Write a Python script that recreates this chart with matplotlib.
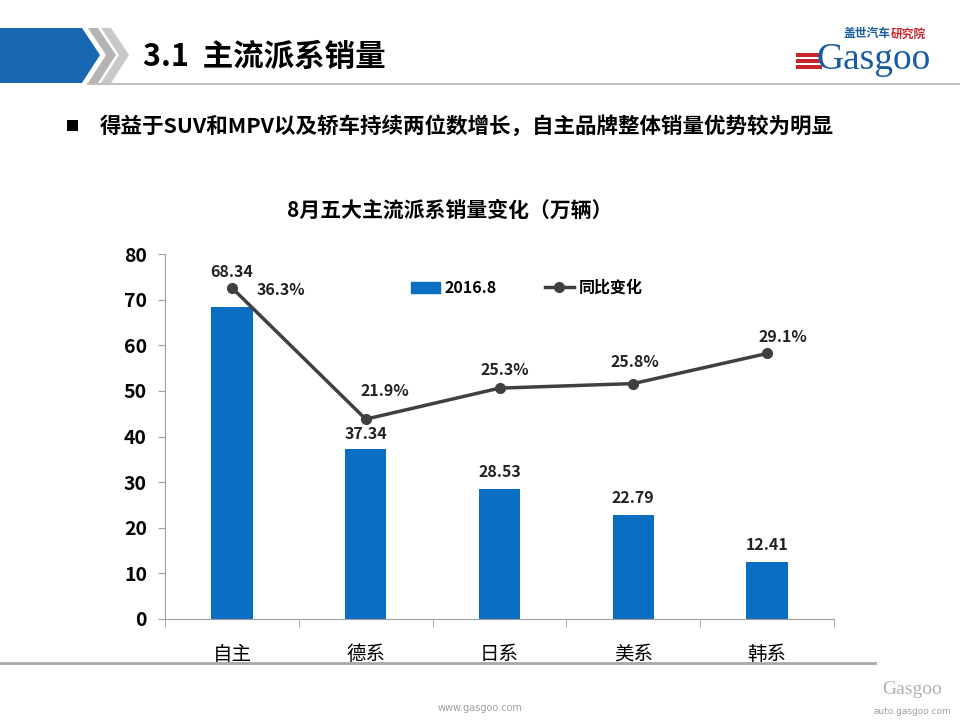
import matplotlib
matplotlib.use('Agg')
import matplotlib.pyplot as plt
from matplotlib.patches import Polygon, Rectangle, Patch
from matplotlib.lines import Line2D
import numpy as np

plt.rcParams['font.family'] = ['Noto Sans CJK SC', 'DejaVu Sans']

# data
categories = ['自主', '德系', '日系', '美系', '韩系']
sales = [68.34, 37.34, 28.53, 22.79, 12.41]        # 2016.8, 万辆
yoy = [36.3, 21.9, 25.3, 25.8, 29.1]               # 同比变化, %
sales_labels = ['68.34', '37.34', '28.53', '22.79', '12.41']
yoy_labels = ['36.3%', '21.9%', '25.3%', '25.8%', '29.1%']
yticks = [0, 10, 20, 30, 40, 50, 60, 70, 80]

bar_color = '#0A6FC2'
line_color = '#404040'

fig = plt.figure(figsize=(9.6, 7.2), dpi=100)

# slide decoration layer in pixel coords
deco = fig.add_axes([0, 0, 1, 1])
deco.set_xlim(0, 960)
deco.set_ylim(720, 0)
deco.axis('off')

deco.add_patch(Polygon([(0, 28), (82, 28), (100, 55), (82, 83), (0, 83)],
                       closed=True, color='#1767B2', lw=0))
deco.add_patch(Polygon([(88, 28), (98, 28), (116, 55), (98, 83), (88, 83), (106, 55)],
                       closed=True, color='#B4B4B4', lw=0))
deco.add_patch(Polygon([(101, 28), (111, 28), (129, 55), (111, 83), (101, 83), (119, 55)],
                       closed=True, color='#C8C8C8', lw=0))
deco.plot([88, 960], [84, 84], color='#C0C0C0', lw=1.5)
deco.text(143, 57, '3.1  主流派系销量', fontsize=22, fontweight='bold',
          va='center', ha='left', color='black')

# logo
for yy in (53, 59, 65):
    deco.add_patch(Rectangle((796, yy), 26, 4, color='#C8242B', lw=0))
deco.text(874, 60, 'Gasgoo', fontsize=27, family='Liberation Serif',
          color='#1B5C9E', ha='center', va='center')
deco.text(843, 34, '盖世汽车', fontsize=8.5, fontweight='bold', color='#1B5C9E',
          ha='left', va='center')
deco.text(891, 34, '研究院', fontsize=8.5, fontweight='bold', color='#C8242B',
          ha='left', va='center')

# bullet line
deco.add_patch(Rectangle((67, 120), 11, 11, color='black', lw=0))
deco.text(100, 126, '得益于SUV和MPV以及轿车持续两位数增长，自主品牌整体销量优势较为明显',
          fontsize=15.5, fontweight='bold', va='center', ha='left', color='black')

# chart title
deco.text(450, 210, '8月五大主流派系销量变化（万辆）', fontsize=15, fontweight='bold',
          va='center', ha='center', color='black')

# footer
deco.plot([0, 875], [663, 663], color='#A8A8A8', lw=2)
deco.text(480, 708, 'www.gasgoo.com', fontsize=7, color='#A0A0A0',
          ha='center', va='center', family='DejaVu Sans')
deco.text(912, 690, 'Gasgoo', fontsize=14, family='Liberation Serif',
          color='#B0B0B0', ha='center', va='center')
deco.text(912, 712, 'auto.gasgoo.com', fontsize=6.5, color='#A0A0A0',
          ha='center', va='center', family='DejaVu Sans')

# main chart
ax = fig.add_axes([165 / 960, 1 - 619 / 720, 669 / 960, 365 / 720])
ax.patch.set_alpha(0)
x = np.arange(len(categories))
ax.bar(x, sales, width=0.31, color=bar_color, zorder=2)
ax.set_xlim(-0.5, len(categories) - 0.5)
ax.set_ylim(0, 80)
ax.set_yticks(yticks)
ax.set_yticklabels([str(v) for v in yticks], fontsize=14, fontweight='bold')
ax.set_xticks(x)
ax.set_xticklabels(categories, fontsize=14)
ax.set_xticks(np.arange(-0.5, len(categories), 1.0), minor=True)
ax.tick_params(axis='x', which='major', length=0, pad=18)
ax.tick_params(axis='x', which='minor', length=6, color='#A0A0A0', direction='out')
ax.tick_params(axis='y', length=5, color='#A0A0A0', direction='out', pad=8)
for s in ('top', 'right'):
    ax.spines[s].set_visible(False)
ax.spines['left'].set_color('#A0A0A0')
ax.spines['bottom'].set_color('#A0A0A0')

bar_offsets = [35, 15, 17, 17, 17]
for xi, v, lab, off in zip(x, sales, sales_labels, bar_offsets):
    ax.annotate(lab, (xi, v), xytext=(0, off), textcoords='offset pixels',
                ha='center', va='center', fontsize=11.5, fontweight='bold', color='#222222')

ax2 = ax.twinx()
ax2.set_ylim(0, 40)
ax2.axis('off')
ax2.plot(x, yoy, color=line_color, lw=2.5, marker='o', markersize=7, zorder=3)
yoy_offsets = [(49, -2), (19, 28), (5, 18), (2, 22), (16, 16)]
for xi, v, lab, (dx, dy) in zip(x, yoy, yoy_labels, yoy_offsets):
    ax2.annotate(lab, (xi, v), xytext=(dx, dy), textcoords='offset pixels',
                 ha='center', va='center', fontsize=11.5, fontweight='bold', color='#222222')

handles = [Patch(color=bar_color),
           Line2D([0], [0], color=line_color, lw=2.5, marker='o', markersize=7)]
fig.legend(handles, ['2016.8', '同比变化'], loc='center',
           bbox_to_anchor=(527 / 960, 1 - 288 / 720), ncol=2, frameon=False,
           columnspacing=3.0, handlelength=1.8, handletextpad=0.3,
           prop={'weight': 'bold', 'size': 11.5})

fig.savefig('out.png', dpi=100)
